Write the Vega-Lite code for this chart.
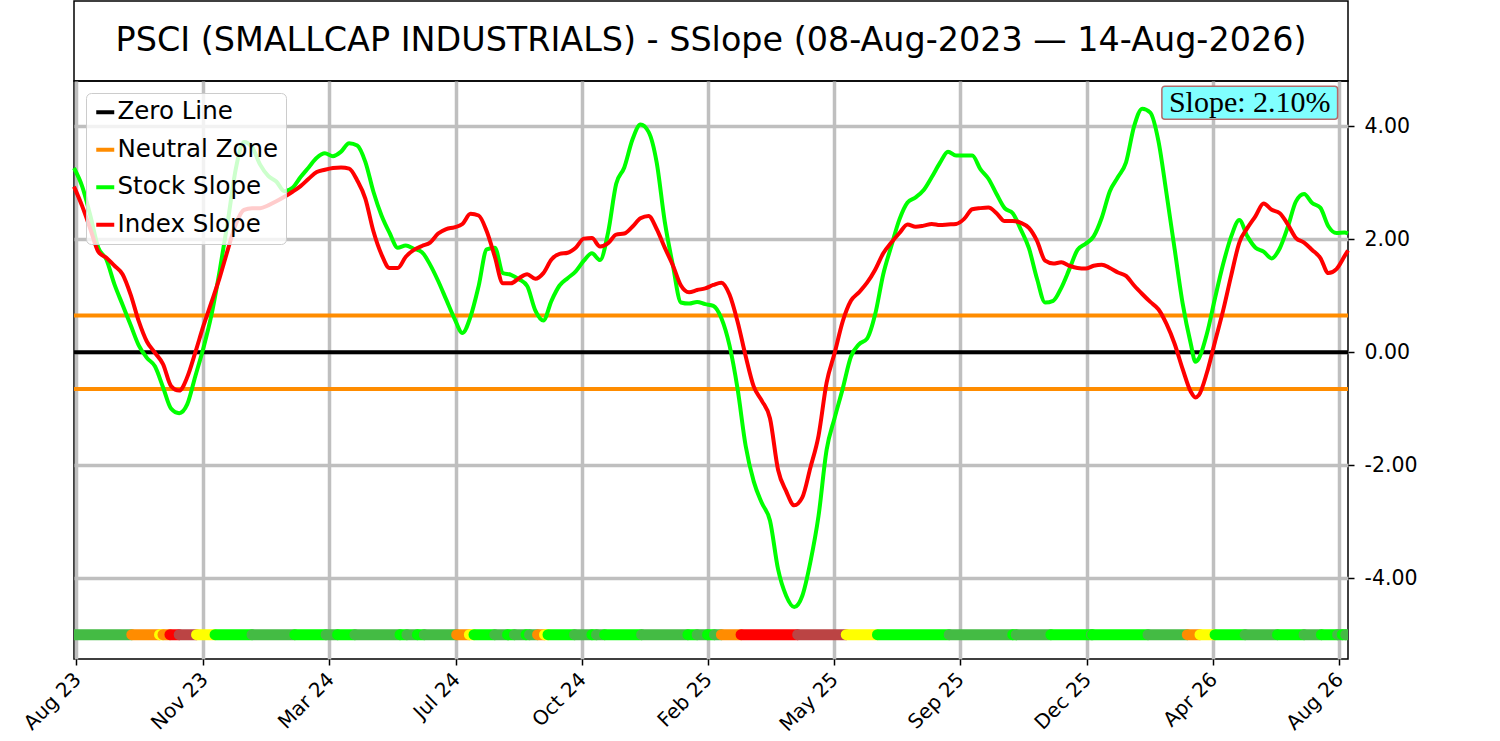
{
  "$schema": "https://vega.github.io/schema/vega-lite/v6.json",
  "background": "white",
  "padding": {"left": 19, "top": 0, "right": 5, "bottom": 0},
  "config": {
    "view": {"stroke": "#000000", "strokeWidth": 1.5},
    "font": "DejaVu Sans",
    "axis": {
      "labelFont": "DejaVu Sans",
      "labelColor": "#000000",
      "tickColor": "#000000",
      "tickSize": 6,
      "tickWidth": 1.5,
      "domain": false,
      "grid": true,
      "gridColor": "#bfbfbf",
      "gridWidth": 3.5
    },
    "legend": {
      "orient": "top-left",
      "offset": 12,
      "symbolType": "stroke",
      "symbolSize": 324,
      "symbolStrokeWidth": 4,
      "labelFont": "DejaVu Sans",
      "labelFontSize": 24.5,
      "labelColor": "#000000",
      "labelOffset": 0,
      "labelLimit": 400,
      "padding": 7,
      "rowPadding": 12.5,
      "fillColor": "rgba(255,255,255,0.8)",
      "strokeColor": "#cccccc",
      "cornerRadius": 5
    }
  },
  "datasets": {
    "heading": [
      {"title": "PSCI (SMALLCAP INDUSTRIALS) - SSlope (08-Aug-2023 — 14-Aug-2026)"}
    ],
    "badge": [
      {"label": "Slope: 2.10%"}
    ],
    "levels": [
      {"level": 0, "line": "Zero Line"},
      {"level": 0.65, "line": "Neutral Zone"},
      {"level": -0.65, "line": "Neutral Zone"}
    ],
    "slopes": [
      {"date": "2023-08-08", "stock": 3.26, "index": 2.93},
      {"date": "2023-08-15", "stock": 2.94, "index": 2.59},
      {"date": "2023-08-22", "stock": 2.43, "index": 2.19},
      {"date": "2023-08-29", "stock": 1.85, "index": 1.78},
      {"date": "2023-09-05", "stock": 1.64, "index": 1.67},
      {"date": "2023-09-12", "stock": 1.20, "index": 1.53},
      {"date": "2023-09-19", "stock": 0.84, "index": 1.38},
      {"date": "2023-09-26", "stock": 0.48, "index": 1.02},
      {"date": "2023-10-03", "stock": 0.12, "index": 0.55},
      {"date": "2023-10-10", "stock": -0.10, "index": 0.19},
      {"date": "2023-10-17", "stock": -0.25, "index": -0.01},
      {"date": "2023-10-24", "stock": -0.62, "index": -0.21},
      {"date": "2023-10-31", "stock": -1.00, "index": -0.60},
      {"date": "2023-11-07", "stock": -1.08, "index": -0.68},
      {"date": "2023-11-14", "stock": -0.92, "index": -0.44},
      {"date": "2023-11-21", "stock": -0.42, "index": 0.00},
      {"date": "2023-11-28", "stock": 0.08, "index": 0.47},
      {"date": "2023-12-05", "stock": 0.67, "index": 0.89},
      {"date": "2023-12-12", "stock": 1.44, "index": 1.32},
      {"date": "2023-12-19", "stock": 2.31, "index": 1.81},
      {"date": "2023-12-26", "stock": 3.25, "index": 2.27},
      {"date": "2024-01-02", "stock": 3.72, "index": 2.52},
      {"date": "2024-01-09", "stock": 3.63, "index": 2.55},
      {"date": "2024-01-16", "stock": 3.32, "index": 2.55},
      {"date": "2024-01-23", "stock": 3.12, "index": 2.60},
      {"date": "2024-01-30", "stock": 3.02, "index": 2.67},
      {"date": "2024-02-06", "stock": 2.85, "index": 2.75},
      {"date": "2024-02-13", "stock": 2.91, "index": 2.84},
      {"date": "2024-02-20", "stock": 3.10, "index": 2.94},
      {"date": "2024-02-27", "stock": 3.27, "index": 3.07},
      {"date": "2024-03-05", "stock": 3.44, "index": 3.19},
      {"date": "2024-03-12", "stock": 3.52, "index": 3.23},
      {"date": "2024-03-19", "stock": 3.47, "index": 3.26},
      {"date": "2024-03-26", "stock": 3.55, "index": 3.27},
      {"date": "2024-04-02", "stock": 3.70, "index": 3.25},
      {"date": "2024-04-09", "stock": 3.66, "index": 3.04},
      {"date": "2024-04-16", "stock": 3.37, "index": 2.72},
      {"date": "2024-04-23", "stock": 2.84, "index": 2.14},
      {"date": "2024-04-30", "stock": 2.42, "index": 1.73},
      {"date": "2024-05-07", "stock": 2.11, "index": 1.49},
      {"date": "2024-05-14", "stock": 1.85, "index": 1.49},
      {"date": "2024-05-21", "stock": 1.89, "index": 1.69},
      {"date": "2024-05-28", "stock": 1.83, "index": 1.81},
      {"date": "2024-06-04", "stock": 1.77, "index": 1.88},
      {"date": "2024-06-11", "stock": 1.55, "index": 1.94},
      {"date": "2024-06-18", "stock": 1.26, "index": 2.10},
      {"date": "2024-06-25", "stock": 0.93, "index": 2.18},
      {"date": "2024-07-02", "stock": 0.60, "index": 2.21},
      {"date": "2024-07-09", "stock": 0.34, "index": 2.27},
      {"date": "2024-07-16", "stock": 0.63, "index": 2.45},
      {"date": "2024-07-23", "stock": 1.17, "index": 2.42},
      {"date": "2024-07-30", "stock": 1.82, "index": 2.14},
      {"date": "2024-08-06", "stock": 1.85, "index": 1.69},
      {"date": "2024-08-13", "stock": 1.40, "index": 1.22},
      {"date": "2024-08-20", "stock": 1.37, "index": 1.22},
      {"date": "2024-08-27", "stock": 1.29, "index": 1.31},
      {"date": "2024-09-03", "stock": 1.17, "index": 1.38},
      {"date": "2024-09-10", "stock": 0.74, "index": 1.30},
      {"date": "2024-09-17", "stock": 0.56, "index": 1.40},
      {"date": "2024-09-24", "stock": 0.91, "index": 1.64},
      {"date": "2024-10-01", "stock": 1.18, "index": 1.74},
      {"date": "2024-10-08", "stock": 1.31, "index": 1.76},
      {"date": "2024-10-15", "stock": 1.43, "index": 1.85},
      {"date": "2024-10-22", "stock": 1.62, "index": 2.01},
      {"date": "2024-10-29", "stock": 1.75, "index": 2.02},
      {"date": "2024-11-05", "stock": 1.63, "index": 1.87},
      {"date": "2024-11-12", "stock": 2.12, "index": 1.93},
      {"date": "2024-11-19", "stock": 2.98, "index": 2.08},
      {"date": "2024-11-26", "stock": 3.27, "index": 2.10},
      {"date": "2024-12-03", "stock": 3.76, "index": 2.22},
      {"date": "2024-12-10", "stock": 4.03, "index": 2.37},
      {"date": "2024-12-17", "stock": 3.90, "index": 2.41},
      {"date": "2024-12-24", "stock": 3.36, "index": 2.18},
      {"date": "2024-12-31", "stock": 2.31, "index": 1.85},
      {"date": "2025-01-07", "stock": 1.54, "index": 1.54},
      {"date": "2025-01-14", "stock": 0.88, "index": 1.18},
      {"date": "2025-01-21", "stock": 0.86, "index": 1.06},
      {"date": "2025-01-28", "stock": 0.89, "index": 1.10},
      {"date": "2025-02-04", "stock": 0.85, "index": 1.13},
      {"date": "2025-02-11", "stock": 0.82, "index": 1.19},
      {"date": "2025-02-18", "stock": 0.60, "index": 1.23},
      {"date": "2025-02-25", "stock": 0.12, "index": 1.02},
      {"date": "2025-03-04", "stock": -0.65, "index": 0.54},
      {"date": "2025-03-11", "stock": -1.66, "index": -0.07},
      {"date": "2025-03-18", "stock": -2.29, "index": -0.61},
      {"date": "2025-03-25", "stock": -2.67, "index": -0.86},
      {"date": "2025-04-01", "stock": -2.98, "index": -1.17},
      {"date": "2025-04-08", "stock": -3.84, "index": -2.08},
      {"date": "2025-04-15", "stock": -4.31, "index": -2.46},
      {"date": "2025-04-22", "stock": -4.51, "index": -2.71},
      {"date": "2025-04-29", "stock": -4.31, "index": -2.57},
      {"date": "2025-05-06", "stock": -3.71, "index": -2.04},
      {"date": "2025-05-13", "stock": -2.90, "index": -1.48},
      {"date": "2025-05-20", "stock": -1.73, "index": -0.54},
      {"date": "2025-05-27", "stock": -1.16, "index": -0.01},
      {"date": "2025-06-03", "stock": -0.64, "index": 0.55},
      {"date": "2025-06-10", "stock": -0.08, "index": 0.91},
      {"date": "2025-06-17", "stock": 0.14, "index": 1.06},
      {"date": "2025-06-24", "stock": 0.24, "index": 1.23},
      {"date": "2025-07-01", "stock": 0.67, "index": 1.46},
      {"date": "2025-07-08", "stock": 1.38, "index": 1.75},
      {"date": "2025-07-15", "stock": 1.88, "index": 1.94},
      {"date": "2025-07-22", "stock": 2.35, "index": 2.11},
      {"date": "2025-07-29", "stock": 2.65, "index": 2.26},
      {"date": "2025-08-05", "stock": 2.74, "index": 2.22},
      {"date": "2025-08-12", "stock": 2.87, "index": 2.24},
      {"date": "2025-08-19", "stock": 3.10, "index": 2.27},
      {"date": "2025-08-26", "stock": 3.35, "index": 2.25},
      {"date": "2025-09-02", "stock": 3.55, "index": 2.26},
      {"date": "2025-09-09", "stock": 3.48, "index": 2.27},
      {"date": "2025-09-16", "stock": 3.48, "index": 2.36},
      {"date": "2025-09-23", "stock": 3.48, "index": 2.53},
      {"date": "2025-09-30", "stock": 3.24, "index": 2.55},
      {"date": "2025-10-07", "stock": 3.07, "index": 2.56},
      {"date": "2025-10-14", "stock": 2.80, "index": 2.46},
      {"date": "2025-10-21", "stock": 2.55, "index": 2.32},
      {"date": "2025-10-28", "stock": 2.46, "index": 2.32},
      {"date": "2025-11-04", "stock": 2.17, "index": 2.29},
      {"date": "2025-11-11", "stock": 1.84, "index": 2.20},
      {"date": "2025-11-18", "stock": 1.30, "index": 1.97},
      {"date": "2025-11-25", "stock": 0.88, "index": 1.62},
      {"date": "2025-12-02", "stock": 0.91, "index": 1.57},
      {"date": "2025-12-09", "stock": 1.14, "index": 1.59},
      {"date": "2025-12-16", "stock": 1.47, "index": 1.53},
      {"date": "2025-12-23", "stock": 1.81, "index": 1.49},
      {"date": "2025-12-30", "stock": 1.92, "index": 1.48},
      {"date": "2026-01-06", "stock": 2.05, "index": 1.53},
      {"date": "2026-01-13", "stock": 2.38, "index": 1.55},
      {"date": "2026-01-20", "stock": 2.85, "index": 1.49},
      {"date": "2026-01-27", "stock": 3.10, "index": 1.41},
      {"date": "2026-02-03", "stock": 3.36, "index": 1.35},
      {"date": "2026-02-10", "stock": 4.00, "index": 1.18},
      {"date": "2026-02-17", "stock": 4.31, "index": 1.03},
      {"date": "2026-02-24", "stock": 4.24, "index": 0.89},
      {"date": "2026-03-03", "stock": 3.74, "index": 0.76},
      {"date": "2026-03-10", "stock": 2.81, "index": 0.50},
      {"date": "2026-03-17", "stock": 1.83, "index": 0.15},
      {"date": "2026-03-24", "stock": 0.86, "index": -0.30},
      {"date": "2026-03-31", "stock": 0.15, "index": -0.70},
      {"date": "2026-04-04", "stock": -0.17, "index": -0.80},
      {"date": "2026-04-07", "stock": -0.11, "index": -0.76},
      {"date": "2026-04-14", "stock": 0.33, "index": -0.36},
      {"date": "2026-04-21", "stock": 0.96, "index": 0.19},
      {"date": "2026-04-28", "stock": 1.56, "index": 0.74},
      {"date": "2026-05-05", "stock": 2.05, "index": 1.36},
      {"date": "2026-05-12", "stock": 2.34, "index": 1.94},
      {"date": "2026-05-19", "stock": 2.05, "index": 2.20},
      {"date": "2026-05-26", "stock": 1.85, "index": 2.41},
      {"date": "2026-06-02", "stock": 1.78, "index": 2.63},
      {"date": "2026-06-09", "stock": 1.66, "index": 2.52},
      {"date": "2026-06-16", "stock": 1.84, "index": 2.46},
      {"date": "2026-06-23", "stock": 2.22, "index": 2.26},
      {"date": "2026-06-30", "stock": 2.67, "index": 2.02},
      {"date": "2026-07-07", "stock": 2.80, "index": 1.94},
      {"date": "2026-07-14", "stock": 2.64, "index": 1.81},
      {"date": "2026-07-21", "stock": 2.56, "index": 1.67},
      {"date": "2026-07-28", "stock": 2.23, "index": 1.40},
      {"date": "2026-08-04", "stock": 2.11, "index": 1.47},
      {"date": "2026-08-11", "stock": 2.12, "index": 1.70},
      {"date": "2026-08-14", "stock": 2.10, "index": 1.80}
    ],
    "strip": [
      {"start": "2023-08-08", "end": "2023-09-27", "state": "up"},
      {"start": "2023-09-27", "end": "2023-10-21", "state": "neutral_down"},
      {"start": "2023-10-21", "end": "2023-10-24", "state": "neutral_up"},
      {"start": "2023-10-24", "end": "2023-10-30", "state": "neutral_down"},
      {"start": "2023-10-30", "end": "2023-11-07", "state": "strong_down"},
      {"start": "2023-11-07", "end": "2023-11-22", "state": "down"},
      {"start": "2023-11-22", "end": "2023-12-08", "state": "neutral_up"},
      {"start": "2023-12-08", "end": "2024-01-09", "state": "strong_up"},
      {"start": "2024-01-09", "end": "2024-02-15", "state": "up"},
      {"start": "2024-02-15", "end": "2024-03-13", "state": "strong_up"},
      {"start": "2024-03-13", "end": "2024-03-23", "state": "up"},
      {"start": "2024-03-23", "end": "2024-04-07", "state": "strong_up"},
      {"start": "2024-04-07", "end": "2024-05-16", "state": "up"},
      {"start": "2024-05-16", "end": "2024-05-22", "state": "strong_up"},
      {"start": "2024-05-22", "end": "2024-05-31", "state": "up"},
      {"start": "2024-05-31", "end": "2024-06-06", "state": "strong_up"},
      {"start": "2024-06-06", "end": "2024-07-04", "state": "up"},
      {"start": "2024-07-04", "end": "2024-07-15", "state": "neutral_down"},
      {"start": "2024-07-15", "end": "2024-07-19", "state": "neutral_up"},
      {"start": "2024-07-19", "end": "2024-08-06", "state": "strong_up"},
      {"start": "2024-08-06", "end": "2024-08-17", "state": "up"},
      {"start": "2024-08-17", "end": "2024-08-23", "state": "strong_up"},
      {"start": "2024-08-23", "end": "2024-09-02", "state": "up"},
      {"start": "2024-09-02", "end": "2024-09-05", "state": "strong_up"},
      {"start": "2024-09-05", "end": "2024-09-12", "state": "up"},
      {"start": "2024-09-12", "end": "2024-09-18", "state": "neutral_down"},
      {"start": "2024-09-18", "end": "2024-09-21", "state": "neutral_up"},
      {"start": "2024-09-21", "end": "2024-10-14", "state": "strong_up"},
      {"start": "2024-10-14", "end": "2024-10-29", "state": "up"},
      {"start": "2024-10-29", "end": "2024-11-02", "state": "strong_up"},
      {"start": "2024-11-02", "end": "2024-11-09", "state": "up"},
      {"start": "2024-11-09", "end": "2024-12-11", "state": "strong_up"},
      {"start": "2024-12-11", "end": "2025-01-20", "state": "up"},
      {"start": "2025-01-20", "end": "2025-01-28", "state": "strong_up"},
      {"start": "2025-01-28", "end": "2025-02-06", "state": "up"},
      {"start": "2025-02-06", "end": "2025-02-12", "state": "strong_up"},
      {"start": "2025-02-12", "end": "2025-02-18", "state": "up"},
      {"start": "2025-02-18", "end": "2025-03-07", "state": "neutral_down"},
      {"start": "2025-03-07", "end": "2025-04-25", "state": "strong_down"},
      {"start": "2025-04-25", "end": "2025-06-06", "state": "down"},
      {"start": "2025-06-06", "end": "2025-07-03", "state": "neutral_up"},
      {"start": "2025-07-03", "end": "2025-09-03", "state": "strong_up"},
      {"start": "2025-09-03", "end": "2025-10-28", "state": "up"},
      {"start": "2025-10-28", "end": "2025-10-31", "state": "strong_up"},
      {"start": "2025-10-31", "end": "2025-11-30", "state": "up"},
      {"start": "2025-11-30", "end": "2026-01-04", "state": "strong_up"},
      {"start": "2026-01-04", "end": "2026-01-05", "state": "up"},
      {"start": "2026-01-05", "end": "2026-02-22", "state": "strong_up"},
      {"start": "2026-02-22", "end": "2026-03-28", "state": "up"},
      {"start": "2026-03-28", "end": "2026-04-08", "state": "neutral_down"},
      {"start": "2026-04-08", "end": "2026-04-21", "state": "neutral_up"},
      {"start": "2026-04-21", "end": "2026-05-17", "state": "strong_up"},
      {"start": "2026-05-17", "end": "2026-06-14", "state": "up"},
      {"start": "2026-06-14", "end": "2026-07-07", "state": "strong_up"},
      {"start": "2026-07-07", "end": "2026-07-22", "state": "up"},
      {"start": "2026-07-22", "end": "2026-08-05", "state": "strong_up"},
      {"start": "2026-08-05", "end": "2026-08-09", "state": "up"},
      {"start": "2026-08-09", "end": "2026-08-12", "state": "strong_up"},
      {"start": "2026-08-12", "end": "2026-08-14", "state": "up"}
    ]
  },
  "bounds": "flush",
  "spacing": 0,
  "resolve": {"legend": {"color": "independent"}, "scale": {"color": "independent"}},
  "vconcat": [
    {
      "width": 1274,
      "height": 80,
      "data": {"name": "heading"},
      "layer": [
        {
          "mark": {"type": "rect", "fill": "#ffffff", "stroke": "#000000", "strokeWidth": 1.5},
          "encoding": {}
        },
        {
          "mark": {"type": "text", "font": "DejaVu Sans", "fontSize": 33.4, "color": "#000000", "baseline": "middle", "align": "center"},
          "encoding": {
            "text": {"field": "title", "type": "nominal"}
          }
        }
      ]
    },
    {
      "width": 1274,
      "height": 578,
      "layer": [
        {
          "data": {"name": "levels"},
          "mark": {"type": "rule", "strokeWidth": 4},
          "encoding": {
            "y": {
              "field": "level",
              "type": "quantitative",
              "title": null,
              "scale": {"domain": [-5.43, 4.8], "nice": false, "zero": false},
              "axis": {
                "orient": "right",
                "values": [-4, -2, 0, 2, 4],
                "labelExpr": "replace(format(datum.value, '.2f'), '−', '-')",
                "labelFontSize": 20.5,
                "labelPadding": 10
              }
            },
            "color": {
              "field": "line",
              "type": "nominal",
              "scale": {
                "domain": ["Zero Line", "Neutral Zone", "Stock Slope", "Index Slope"],
                "range": ["#000000", "#ff8c00", "#00ff00", "#ff0000"]
              },
              "legend": {"title": null}
            }
          }
        },
        {
          "data": {"name": "strip"},
          "mark": {"type": "rule", "strokeWidth": 11, "strokeCap": "round", "clip": true},
          "encoding": {
            "x": {"field": "start", "type": "temporal", "title": null},
            "x2": {"field": "end"},
            "y": {"datum": -5, "type": "quantitative", "title": null},
            "stroke": {
              "field": "state",
              "type": "nominal",
              "scale": {
                "domain": ["strong_up", "up", "neutral_up", "neutral_down", "down", "strong_down"],
                "range": ["#00ff00", "#44bb44", "#ffff00", "#ff8c00", "#bb4444", "#ff0000"]
              },
              "legend": null
            }
          }
        },
        {
          "data": {"name": "slopes"},
          "mark": {"type": "line", "strokeWidth": 4, "interpolate": "monotone", "strokeJoin": "round"},
          "encoding": {
            "x": {
              "field": "date",
              "type": "temporal",
              "title": null,
              "scale": {
                "domain": [{"year": 2023, "month": 8, "date": 8}, {"year": 2026, "month": 8, "date": 14}],
                "nice": false
              },
              "axis": {
                "values": [
                  {"year": 2023, "month": 8, "date": 10},
                  {"year": 2023, "month": 11, "date": 28},
                  {"year": 2024, "month": 3, "date": 16},
                  {"year": 2024, "month": 7, "date": 3},
                  {"year": 2024, "month": 10, "date": 20},
                  {"year": 2025, "month": 2, "date": 6},
                  {"year": 2025, "month": 5, "date": 26},
                  {"year": 2025, "month": 9, "date": 12},
                  {"year": 2025, "month": 12, "date": 31},
                  {"year": 2026, "month": 4, "date": 19},
                  {"year": 2026, "month": 8, "date": 6}
                ],
                "format": "%b %y",
                "labelFontSize": 20,
                "labelAngle": -45,
                "labelAlign": "right",
                "labelBaseline": "top",
                "labelOffset": -6,
                "labelPadding": 4,
                "labelOverlap": false,
                "labelFlush": false
              }
            },
            "y": {"field": "stock", "type": "quantitative", "title": null},
            "color": {"datum": "Stock Slope", "type": "nominal"}
          }
        },
        {
          "data": {"name": "slopes"},
          "mark": {"type": "line", "strokeWidth": 4, "interpolate": "monotone", "strokeJoin": "round"},
          "encoding": {
            "x": {"field": "date", "type": "temporal", "title": null},
            "y": {"field": "index", "type": "quantitative", "title": null},
            "color": {"datum": "Index Slope", "type": "nominal"}
          }
        },
        {
          "data": {"name": "badge"},
          "mark": {"type": "rect", "fill": "#80ffff", "stroke": "#b36b6b", "strokeWidth": 1.5, "cornerRadius": 3},
          "encoding": {
            "x": {"datum": {"year": 2026, "month": 3, "date": 6}, "type": "temporal", "title": null},
            "x2": {"datum": {"year": 2026, "month": 8, "date": 5}},
            "y": {"datum": 4.708, "type": "quantitative", "title": null},
            "y2": {"datum": 4.124}
          }
        },
        {
          "data": {"name": "badge"},
          "mark": {"type": "text", "font": "Liberation Serif", "fontSize": 30, "color": "#000000", "baseline": "middle", "align": "center"},
          "encoding": {
            "x": {"datum": {"year": 2026, "month": 5, "date": 21}, "type": "temporal", "title": null},
            "y": {"datum": 4.416, "type": "quantitative", "title": null},
            "text": {"field": "label", "type": "nominal"}
          }
        }
      ]
    }
  ]
}
